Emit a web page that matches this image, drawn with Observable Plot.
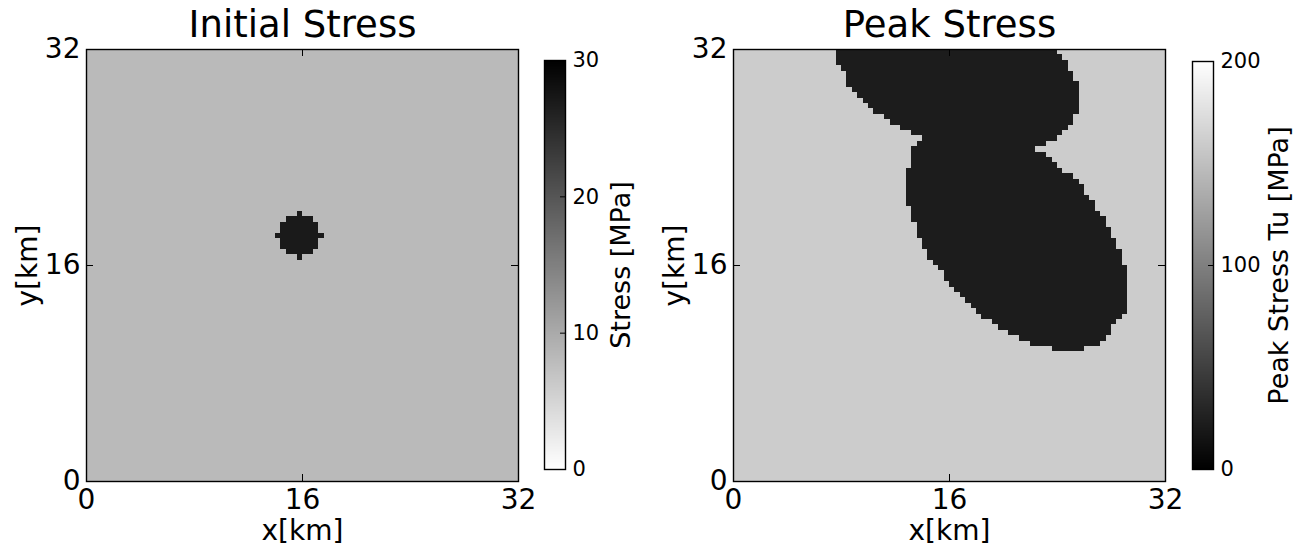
<!DOCTYPE html>
<html>
<head>
<meta charset="utf-8">
<script src="https://cdn.jsdelivr.net/npm/d3@7"></script>
<script src="https://cdn.jsdelivr.net/npm/@observablehq/plot@0.6"></script>
<style>
  html, body { margin: 0; padding: 0; background: white; }
  #chart { position: relative; width: 1301px; height: 546px; background: white; font-family: "DejaVu Sans", sans-serif; }
  #chart > svg { position: absolute; top: 0; }
</style>
</head>
<body>
<div id="chart"></div>
<script>
// ---- shared axes ----
const domainKm = [0, 32];
const xTicks = [0, 16, 32];
const yTicks = [0, 16, 32];
const cellKm = 0.4;

// ---- Initial Stress panel (MPa) ----
const initTitle = "Initial Stress";
const initBackground = 8.1;
const initPatchValue = 27;
const initRowY  = [19.6, 19.2, 18.8, 18.4, 18.0, 17.6, 17.2, 16.8, 16.4];
const initRowX1 = [15.6, 14.8, 14.4, 14.4, 14.0, 14.4, 14.4, 14.8, 15.6];
const initRowX2 = [16.0, 16.8, 17.2, 17.2, 17.6, 17.2, 17.2, 16.8, 16.0];
const initBarDomain = [0, 30];
const initBarTicks = [0, 10, 20, 30];
const initBarLabel = "Stress [MPa]";

// ---- Peak Stress panel (MPa) ----
const peakTitle = "Peak Stress";
const peakBackground = 160;
const peakPatchValue = 22;
const peakRowY = [31.6, 31.2, 30.8, 30.4, 30.0, 29.6, 29.2, 28.8, 28.4, 28.0,
  27.6, 27.2, 26.8, 26.4, 26.0, 25.6, 25.2, 24.8, 24.4, 24.0,
  23.6, 23.2, 22.8, 22.4, 22.0, 21.6, 21.2, 20.8, 20.4, 20.0,
  19.6, 19.2, 18.8, 18.4, 18.0, 17.6, 17.2, 16.8, 16.4, 16.0,
  15.6, 15.2, 14.8, 14.4, 14.0, 13.6, 13.2, 12.8, 12.4, 12.0,
  11.6, 11.2, 10.8, 10.4, 10.0, 9.6];
const peakRowX1 = [7.6, 7.6, 7.6, 8.0, 8.4, 8.4, 8.4, 8.8, 9.2, 9.6,
  10.0, 10.4, 11.2, 11.6, 12.4, 13.2, 14.0, 13.6, 13.2, 13.2,
  13.2, 13.2, 12.8, 12.8, 12.8, 12.8, 12.8, 12.8, 12.8, 13.2,
  13.2, 13.2, 13.6, 13.6, 13.6, 14.0, 14.0, 14.4, 14.4, 14.8,
  15.2, 15.6, 15.6, 16.0, 16.4, 16.8, 17.2, 17.6, 18.0, 18.4,
  19.2, 19.6, 20.4, 21.2, 22.0, 23.6];
const peakRowX2 = [24.0, 24.4, 24.8, 24.8, 25.2, 25.2, 25.6, 25.6, 25.6, 25.6,
  25.6, 25.6, 25.2, 25.2, 24.8, 24.4, 24.0, 23.2, 22.4, 23.2,
  23.6, 24.0, 24.4, 25.2, 25.6, 26.0, 26.0, 26.4, 26.8, 26.8,
  27.2, 27.6, 27.6, 28.0, 28.0, 28.4, 28.4, 28.8, 28.8, 28.8,
  29.2, 29.2, 29.2, 29.2, 29.2, 29.2, 29.2, 29.2, 29.2, 28.8,
  28.4, 28.0, 28.0, 27.6, 27.2, 26.0];
const peakBarDomain = [0, 200];
const peakBarTicks = [0, 100, 200];
const peakBarLabel = "Peak Stress Tu [MPa]";

const initColor = {type: "linear", domain: initBarDomain, range: ["white", "black"], interpolate: "rgb"};
const peakColor = {type: "linear", domain: peakBarDomain, range: ["black", "white"], interpolate: "rgb"};

const FONT = "DejaVu Sans";
const frameSize = 432;
const tickLen = 7;

function panel(o) {
  const cells = [{x1: domainKm[0], x2: domainKm[1], y1: domainKm[0], y2: domainKm[1], v: o.bg}]
    .concat(o.rowY.map((y, i) => ({x1: o.x1[i], x2: o.x2[i], y1: y, y2: y + cellKm, v: o.value})));
  const svg = Plot.plot({
    width: 86 + frameSize + 22, height: 546,
    marginLeft: 86, marginRight: 22, marginTop: 49, marginBottom: 65,
    x: {domain: domainKm}, y: {domain: domainKm},
    color: o.color,
    style: {background: "transparent", fontFamily: FONT, overflow: "visible"},
    marks: [
      Plot.rect(cells, {x1: "x1", x2: "x2", y1: "y1", y2: "y2", fill: "v", shapeRendering: "crispEdges"}),
      Plot.ruleX(xTicks, {x: d => d, insetTop: frameSize - tickLen, stroke: "black", strokeWidth: 1}),
      Plot.ruleX(xTicks, {x: d => d, insetBottom: frameSize - tickLen, stroke: "black", strokeWidth: 1}),
      Plot.ruleY(yTicks, {y: d => d, insetRight: frameSize - tickLen, stroke: "black", strokeWidth: 1}),
      Plot.ruleY(yTicks, {y: d => d, insetLeft: frameSize - tickLen, stroke: "black", strokeWidth: 1}),
      Plot.frame({stroke: "black", strokeWidth: 1.4}),
      Plot.axisX({ticks: xTicks, tickSize: 0, tickPadding: 8, label: null, fontSize: 28, tickFormat: d => String(d), fill: "black"}),
      Plot.axisY({ticks: yTicks, tickSize: 0, tickPadding: 6, label: null, fontSize: 28, tickFormat: d => String(d), fill: "black"}),
      Plot.text([o.title], {text: d => d, frameAnchor: "top", textAnchor: "middle", lineAnchor: "middle", dy: -24, fontSize: 37, fill: "black"}),
      Plot.text(["x[km]"], {text: d => d, frameAnchor: "bottom", textAnchor: "middle", lineAnchor: "middle", dy: 50, fontSize: 28, fill: "black"}),
      Plot.text(["y[km]"], {text: d => d, frameAnchor: "left", textAnchor: "middle", lineAnchor: "middle", dx: -58, rotate: -90, fontSize: 28, fill: "black"})
    ]
  });
  svg.style.left = o.left + "px";
  return svg;
}

function colorbar(o) {
  const n = 408;
  const [d0, d1] = o.domain;
  const bands = d3.range(n).map(i => ({
    x1: 0, x2: 1,
    y1: d0 + (d1 - d0) * i / n,
    y2: d0 + (d1 - d0) * (i + 1) / n,
    v: d0 + (d1 - d0) * (i + 0.5) / n
  }));
  const barW = 21;
  const svg = Plot.plot({
    width: 2 + barW + o.marginRight, height: 546,
    marginLeft: 2, marginRight: o.marginRight, marginTop: o.top, marginBottom: 546 - 469,
    x: {domain: [0, 1], axis: null},
    y: {domain: o.domain, axis: null},
    color: o.color,
    style: {background: "transparent", fontFamily: FONT, overflow: "visible"},
    marks: [
      Plot.rect(bands, {x1: "x1", x2: "x2", y1: "y1", y2: "y2", fill: "v", shapeRendering: "crispEdges"}),
      Plot.ruleY(o.ticks, {y: d => d, insetLeft: barW - 5, stroke: "black", strokeWidth: 1}),
      Plot.frame({stroke: "black", strokeWidth: 1.4}),
      Plot.axisY({anchor: "right", ticks: o.ticks, tickSize: 0, tickPadding: 7, label: null, fontSize: 21, tickFormat: d => String(d), fill: "black"}),
      Plot.text([o.label], {text: d => d, frameAnchor: "right", textAnchor: "middle", lineAnchor: "middle", dx: o.labelDx, rotate: -90, fontSize: 27, fill: "black"})
    ]
  });
  svg.style.left = o.left + "px";
  return svg;
}

const chart = document.getElementById("chart");
chart.appendChild(panel({title: initTitle, bg: initBackground, value: initPatchValue,
  rowY: initRowY, x1: initRowX1, x2: initRowX2, color: initColor, left: 0}));
chart.appendChild(panel({title: peakTitle, bg: peakBackground, value: peakPatchValue,
  rowY: peakRowY, x1: peakRowX1, x2: peakRowX2, color: peakColor, left: 647}));
chart.appendChild(colorbar({domain: initBarDomain, ticks: initBarTicks, label: initBarLabel,
  color: initColor, left: 542, top: 60, marginRight: 90, labelDx: 56}));
chart.appendChild(colorbar({domain: peakBarDomain, ticks: peakBarTicks, label: peakBarLabel,
  color: peakColor, left: 1190, top: 61, marginRight: 88, labelDx: 66}));
</script>
</body>
</html>
